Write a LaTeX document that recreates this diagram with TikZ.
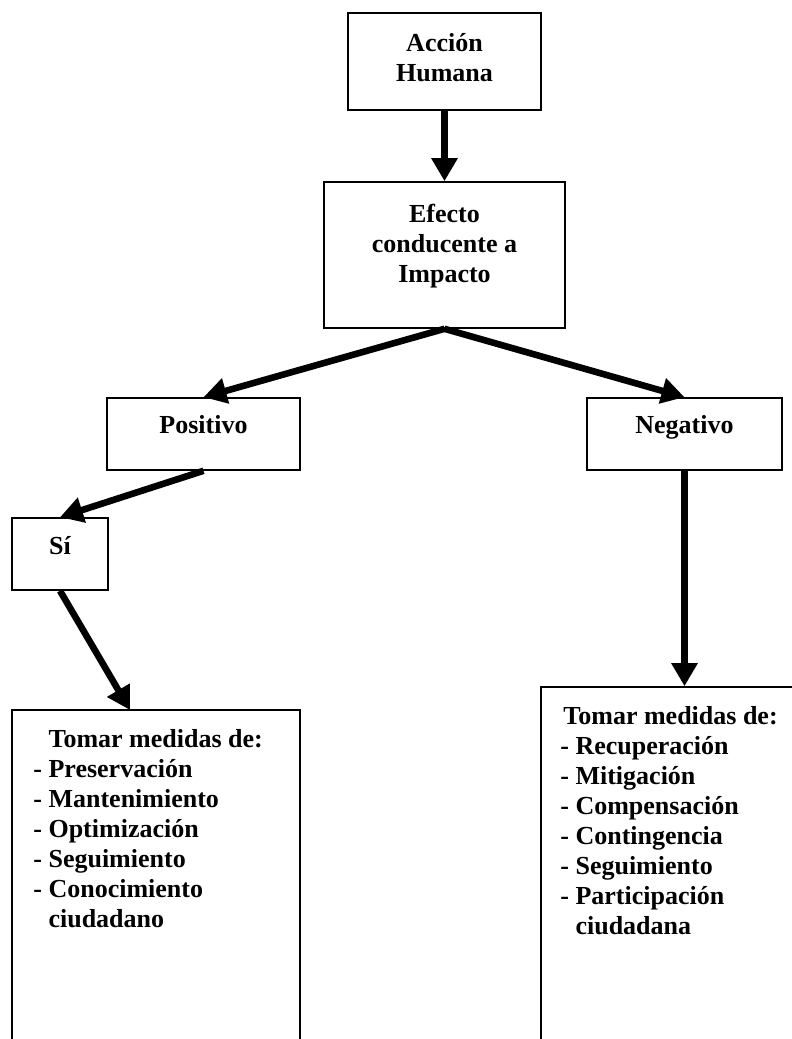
\documentclass[tikz,border=0pt]{standalone}
\usepackage{fontspec}
\setmainfont{Liberation Serif}
\usetikzlibrary{arrows.meta,positioning}
\tikzset{
	caja/.style={draw, line width=0.8pt, inner sep=0pt},
	flecha/.style={line width=3.3pt, -{Triangle[length=11.5pt,width=12.5pt]}},
	rotulo/.style={font=\bfseries\fontsize{13}{15}\selectfont, align=center, inner sep=0pt},
	lista/.style={font=\bfseries\fontsize{13}{15}\selectfont, align=left, inner sep=0pt, anchor=north west}
}
\begin{document}
\begin{tikzpicture}[x=0.5pt,y=-0.5pt]
	\useasboundingbox (0,0) rectangle (792,1039);
	\clip (0,0) rectangle (792,1039);
	% cajas
	\node[caja, minimum width=96.5pt, minimum height=48.5pt, label={[rotulo, anchor=north, yshift=-10.3pt]north:{Acción\\Humana}}] (accion) at (444.5,61.5) {};
	\node[caja, minimum width=120.5pt, minimum height=73pt, label={[rotulo, anchor=north, yshift=-11.2pt]north:{Efecto\\conducente a\\Impacto}}] (efecto) at (444.5,255) {};
	\node[caja, minimum width=96.5pt, minimum height=36pt, label={[rotulo, anchor=north, yshift=-8.8pt]north:{Positivo}}] (positivo) at (203.5,434) {};
	\node[caja, minimum width=97.5pt, minimum height=36pt, label={[rotulo, anchor=north, yshift=-8.8pt]north:{Negativo}}] (negativo) at (684.5,434) {};
	\node[caja, minimum width=48pt, minimum height=36pt, label={[rotulo, anchor=north, yshift=-9.5pt]north:{Sí}}] (si) at (60,554) {};
	\node[caja, minimum width=144pt, minimum height=175pt] (medpos) at (156,885) {};
	\node[caja, minimum width=144.5pt, minimum height=186.5pt] (medneg) at (685.5,873.5) {};
	% textos de las medidas
	\node[lista] (medpos-t) at (33,729.5) {\phantom{- }Tomar medidas de:\\- Preservación\\- Mantenimiento\\- Optimización\\- Seguimiento\\- Conocimiento\\\phantom{- }ciudadano};
	\node[lista] (medneg-t) at (560,706.5) {\hspace{1.5pt}Tomar medidas de:\\- Recuperación\\- Mitigación\\- Compensación\\- Contingencia\\- Seguimiento\\- Participación\\\phantom{- }ciudadana};
	% flechas
	\coordinate (medpos-in) at (130,710);
	\draw[flecha] (accion) -- (efecto);
	\draw[flecha] (efecto.south) -- (positivo.north);
	\draw[flecha] (efecto.south) -- (negativo.north);
	\draw[flecha] (positivo.south) -- (si.north);
	\draw[flecha] (si.south) -- (medpos-in);
	\draw[flecha] (negativo.south) -- (negativo.south |- medneg.north);
\end{tikzpicture}
\end{document}
